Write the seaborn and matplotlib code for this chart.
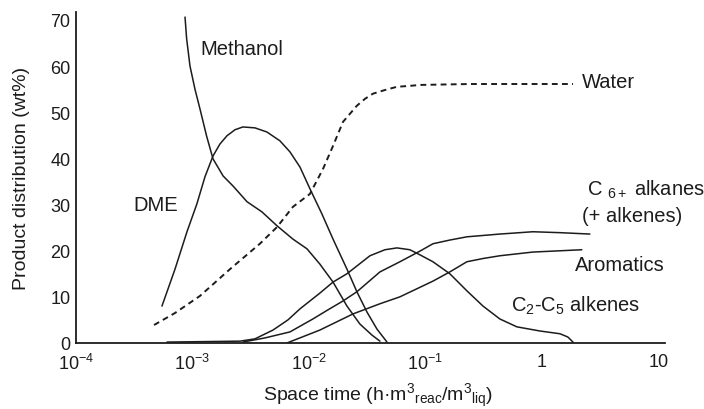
import matplotlib
matplotlib.use('Agg')
import matplotlib.pyplot as plt
from matplotlib.ticker import NullLocator
import pandas as pd
import seaborn as sns

# ---- data (x: space time, y: wt%) ----
methanol_x = [8.63e-4, 8.91e-4, 9.52e-4, 1.05e-3, 1.16e-3, 1.32e-3, 1.50e-3, 1.83e-3,
              2.23e-3, 2.94e-3, 3.95e-3, 5.31e-3, 7.29e-3, 9.62e-3, 1.24e-2, 1.61e-2,
              2.12e-2, 2.74e-2, 3.48e-2, 4.07e-2]
methanol_y = [70.6, 65.9, 60.0, 55.0, 50.7, 44.9, 39.9, 36.2,
              34.0, 30.6, 28.4, 25.4, 22.5, 20.4, 17.1, 13.2,
              8.0, 4.1, 1.7, 0.4]

dme_x = [5.47e-4, 7.08e-4, 8.97e-4, 1.09e-3, 1.28e-3, 1.50e-3, 1.72e-3, 1.98e-3,
         2.32e-3, 2.71e-3, 3.44e-3, 4.36e-3, 5.63e-3, 6.87e-3, 8.38e-3, 1.02e-2,
         1.29e-2, 1.61e-2, 2.12e-2, 2.58e-2, 3.15e-2, 3.84e-2, 4.68e-2]
dme_y = [8.0, 16.0, 24.1, 30.1, 36.0, 40.5, 43.1, 44.9,
         46.2, 46.8, 46.6, 45.7, 43.8, 41.4, 38.1, 33.4,
         28.0, 22.5, 16.0, 11.1, 6.7, 3.0, 0.2]

water_x = [4.68e-4, 7.08e-4, 1.16e-3, 2.10e-3, 3.79e-3, 5.31e-3, 7.29e-3, 1.02e-2,
           1.32e-2, 1.61e-2, 1.96e-2, 2.58e-2, 3.03e-2, 3.54e-2, 4.49e-2, 5.69e-2,
           7.36e-2, 8.97e-2, 0.241, 1.85]
water_y = [3.9, 6.5, 10.2, 16.0, 21.5, 25.1, 29.5, 32.3,
           37.7, 42.7, 47.9, 51.4, 52.9, 54.0, 54.8, 55.5,
           55.7, 55.9, 56.1, 56.1]

c2c5_x = [6.04e-4, 2.56e-3, 3.44e-3, 4.91e-3, 6.60e-3, 8.38e-3, 1.24e-2, 1.61e-2,
          2.12e-2, 3.34e-2, 4.49e-2, 5.69e-2, 7.36e-2, 8.97e-2, 0.116, 0.162,
          0.227, 0.312, 0.436, 0.610, 0.962, 1.43, 1.67, 1.85]
c2c5_y = [0.2, 0.4, 0.9, 2.8, 5.0, 7.4, 10.8, 13.2,
          15.0, 18.9, 20.2, 20.6, 20.2, 19.1, 17.6, 15.0,
          11.3, 8.0, 5.2, 3.5, 2.6, 2.0, 1.3, 0.2]

c6_x = [2.71e-3, 4.19e-3, 6.87e-3, 1.08e-2, 1.46e-2, 1.96e-2, 2.58e-2, 4.07e-2,
        6.04e-2, 8.97e-2, 0.116, 0.162, 0.227, 0.436, 0.837, 1.43, 2.58]
c6_y = [0.2, 1.1, 2.4, 5.2, 7.2, 9.1, 11.1, 15.4,
        17.6, 19.9, 21.5, 22.3, 23.0, 23.6, 24.1, 23.9, 23.6]

arom_x = [6.47e-3, 1.24e-2, 2.39e-2, 4.07e-2, 6.04e-2, 0.116, 0.162, 0.227,
          0.312, 0.436, 0.837, 2.20]
arom_y = [0.0, 2.8, 6.3, 8.5, 10.0, 13.4, 15.4, 17.6,
          18.3, 18.9, 19.7, 20.2]

xtick_values = [1e-4, 1e-3, 1e-2, 1e-1, 1, 10]
xtick_labels = [r'$10^{-4}$', r'$10^{-3}$', r'$10^{-2}$', r'$10^{-1}$', '1', '10']
ytick_values = [0, 10, 20, 30, 40, 50, 60, 70]

series = [
    ('Methanol', methanol_x, methanol_y, '-'),
    ('DME', dme_x, dme_y, '-'),
    ('Water', water_x, water_y, '--'),
    ('C2-C5 alkenes', c2c5_x, c2c5_y, '-'),
    ('C6+ alkanes', c6_x, c6_y, '-'),
    ('Aromatics', arom_x, arom_y, '-'),
]

# ---- style ----
sns.set_theme(style='white')
plt.rcParams['font.family'] = ['Liberation Sans', 'DejaVu Sans']
plt.rcParams['mathtext.fontset'] = 'custom'
plt.rcParams['mathtext.rm'] = 'Liberation Sans'
plt.rcParams['mathtext.it'] = 'Liberation Sans:italic'
plt.rcParams['mathtext.bf'] = 'Liberation Sans:bold'
plt.rcParams['mathtext.default'] = 'regular'

fig = plt.figure(figsize=(7.04, 4.10), dpi=100)
ax = fig.add_axes([76 / 704, 1 - 344 / 410, (665 - 76) / 704, (344 - 13) / 410])
ax.set_xscale('log')

ink = '#1c1c1c'
for name, xs, ys, ls in series:
    df = pd.DataFrame({'x': xs, 'y': ys})
    if ls == '--':
        sns.lineplot(data=df, x='x', y='y', ax=ax, color=ink, lw=1.4,
                     sort=False, estimator=None, dashes=False,
                     linestyle=(0, (3.0, 2.2)))
    else:
        sns.lineplot(data=df, x='x', y='y', ax=ax, color=ink, lw=1.1,
                     sort=False, estimator=None)

for line in ax.get_lines():
    line.set_solid_joinstyle('round')
    line.set_dash_joinstyle('round')

ax.set_xlim(1e-4, 11.4)
ax.set_ylim(0, 71.7)
ax.set_xticks(xtick_values)
ax.set_xticklabels(xtick_labels)
ax.xaxis.set_minor_locator(NullLocator())
ax.set_yticks(ytick_values)

for s in ['top', 'right']:
    ax.spines[s].set_visible(False)
for s in ['left', 'bottom']:
    ax.spines[s].set_color(ink)
    ax.spines[s].set_linewidth(1.3)

ax.tick_params(axis='both', which='major', direction='in', length=8, width=1.1,
               colors=ink, labelsize=13)
ax.tick_params(axis='x', pad=7)
ax.tick_params(axis='y', pad=4)

ax.set_xlabel('Space time (h·m$^{3}$$_{\\mathrm{reac}}$/m$^{3}$$_{\\mathrm{liq}}$)',
              fontsize=14, color=ink)
ax.xaxis.label.set_verticalalignment('center')
ax.xaxis.set_label_coords((378.5 - 76) / 589, (344 - 396) / 331)
ax.set_ylabel('Product distribution (wt%)', fontsize=14, color=ink)
ax.yaxis.label.set_verticalalignment('center')
ax.yaxis.set_label_coords((22 - 76) / 589, 0.5)

lab_kw = dict(fontsize=14.5, color=ink, va='center', ha='left')
ax.text(1.16e-3, 63.7, 'Methanol', **lab_kw)
ax.text(2.2, 56.6, 'Water', **lab_kw)
ax.text(3.08e-4, 29.9, 'DME', **lab_kw)
ax.text(2.43, 33.3, r'C $_{6+}$ alkanes', **lab_kw)
ax.text(2.2, 27.7, '(+ alkenes)', **lab_kw)
ax.text(1.92, 17.1, 'Aromatics', **lab_kw)
ax.text(0.542, 8.2, r'C$_{2}$-C$_{5}$ alkenes', **lab_kw)

fig.savefig('out.png', dpi=100)
